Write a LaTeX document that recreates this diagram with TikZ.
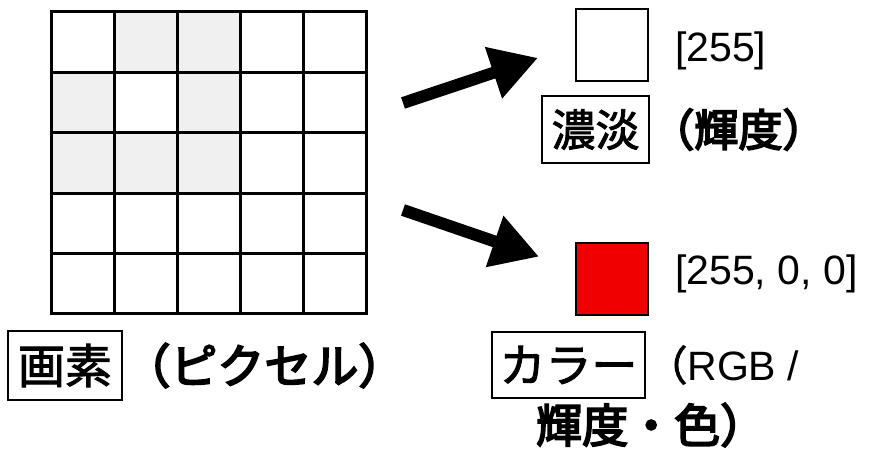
\documentclass[tikz,border=0pt]{standalone}
\usepackage{fontspec}
\setmainfont{Liberation Sans}
\newfontfamily\cjk[FakeBold=2]{Noto Sans CJK JP}
\newfontfamily\cjkb[FakeBold=4]{Noto Sans CJK JP}
\usetikzlibrary{positioning,arrows.meta}
\definecolor{pixred}{RGB}{240,0,0}
\definecolor{pixgray}{RGB}{240,240,240}
\tikzset{
  frame/.style={draw, line width=2.5pt, inner sep=0pt},
  swatch/.style={draw, line width=2pt, minimum width=72pt, minimum height=72pt, inner sep=0pt},
  big/.style={line width=12pt, -{Triangle[length=47pt,width=51pt]}},
}

\begin{document}
\begin{tikzpicture}[x=1pt,y=-1pt]
  \useasboundingbox (0,0) rectangle (879,449);
  \foreach \r/\c in {0/1,0/2,1/0,1/2,2/0,2/1,2/2}
    \fill[pixgray] ({51+63*\c},{12+60.4*\r}) rectangle ++(63,60.4);
  \foreach \i in {1,...,4} {
    \draw[line width=3pt] ({51+63*\i},12) -- ++(0,302);
    \draw[line width=3pt] (51,{12+60.4*\i}) -- ++(315,0);
  }
  \node (px) [draw, line width=3pt, minimum width=315pt, minimum height=302pt, inner sep=0pt] at (208.5,163) {};

  \node (gaso) [frame, minimum width=114pt, minimum height=69pt, font=\cjk\fontsize{47}{50}\selectfont] at (65,365.5) {画素};
  \node (pixel) [right=0pt of gaso, inner sep=0pt, font=\cjkb\fontsize{47}{50}\selectfont] {（ピクセル）};

  \node (gray) [swatch] at (612,45.5) {};
  \node (v1) [anchor=base west, inner sep=0pt, font=\fontsize{41}{44}\selectfont] at (675,62) {[255]};
  \node (noutan) [frame, minimum width=107pt, minimum height=67pt, font=\cjk\fontsize{44}{48}\selectfont] at (595.5,129.5) {濃淡};
  \node (kido) [right=0pt of noutan, inner sep=0pt, font=\cjkb\fontsize{44}{48}\selectfont] {（輝度）};

  \node (red) [swatch, fill=pixred] at (612,279) {};
  \node (v3) [anchor=base west, inner sep=0pt, font=\fontsize{41}{44}\selectfont] at (675,285) {[255, 0, 0]};
  \node (color) [frame, minimum width=153pt, minimum height=66pt, font=\cjk\fontsize{46}{50}\selectfont] at (568.5,365) {カラー};
  \node (rgb) [right=0pt of color, inner sep=0pt, font=\fontsize{41}{44}\selectfont] {{\cjk （}RGB /};
  \node (kido2) [anchor=west, inner sep=0pt, font=\cjkb\fontsize{46}{50}\selectfont] at (536,425) {輝度・色）};

  \coordinate (t1) at (403,103);
  \coordinate (t2) at (403,210);
  \draw[big, shorten >=39pt] (t1) -- (gray.west);
  \draw[big, shorten >=38pt] (t2) -- ([yshift=10pt]red.west);
\end{tikzpicture}
\end{document}
